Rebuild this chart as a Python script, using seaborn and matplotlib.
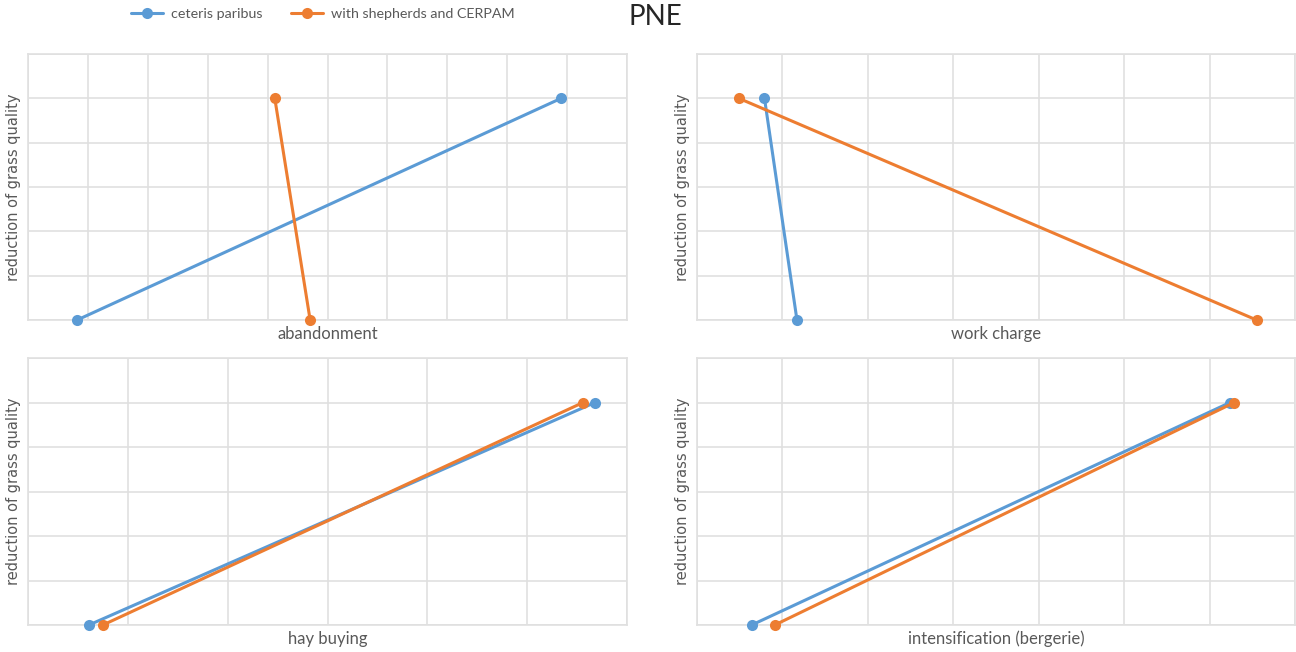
import numpy as np
import pandas as pd
import matplotlib
matplotlib.use("Agg")
import matplotlib.pyplot as plt
import seaborn as sns

# data
scenarios = ["ceteris paribus", "with shepherds and CERPAM"]
levers = ["abandonment", "work charge", "hay buying", "intensification (bergerie)"]
y_levels = [0, 1]
ceteris_x = [[0.82, 8.9], [1.17, 0.79], [0.61, 5.68], [0.64, 6.24]]
shepherds_x = [[4.71, 4.12], [6.55, 0.49], [0.75, 5.56], [0.91, 6.29]]
x_max = [10, 7, 6, 7]

colors = {"ceteris paribus": "#5B9BD5", "with shepherds and CERPAM": "#ED7D31"}

sns.set_style("white")
plt.rcParams["font.family"] = ["Lato", "DejaVu Sans"]

fig = plt.figure(figsize=(12.96, 6.52), dpi=100)
boxes = [
    [28 / 1296, 1 - 320 / 652, 599 / 1296, 266 / 652],
    [697 / 1296, 1 - 320 / 652, 598 / 1296, 266 / 652],
    [28 / 1296, 1 - 625 / 652, 599 / 1296, 267 / 652],
    [697 / 1296, 1 - 625 / 652, 598 / 1296, 267 / 652],
]

for i, lever in enumerate(levers):
    ax = fig.add_axes(boxes[i])
    df = pd.DataFrame({
        "x": ceteris_x[i] + shepherds_x[i],
        "y": y_levels + y_levels,
        "scenario": [scenarios[0]] * 2 + [scenarios[1]] * 2,
    })
    sns.lineplot(data=df, x="x", y="y", hue="scenario", palette=colors,
                 sort=False, estimator=None, marker="o", markersize=8,
                 markeredgewidth=0, linewidth=2.2, ax=ax, legend=False,
                 clip_on=False, zorder=3)
    ax.set_xlim(0, x_max[i])
    ax.set_ylim(0, 1.2)
    ax.set_xticks(np.arange(0, x_max[i] + 1, 1))
    ax.set_yticks(np.arange(0, 1.21, 0.2))
    ax.tick_params(length=0, labelbottom=False, labelleft=False)
    ax.grid(True, color="#e0e0e0", linewidth=1.2)
    for s in ax.spines.values():
        s.set_color("#e0e0e0")
        s.set_linewidth(1.2)
    ax.set_xlabel(lever, fontsize=12, color="#595959", labelpad=4)
    ax.set_ylabel("reduction of grass quality", fontsize=10.5, color="#595959",
                  family=["DejaVu Sans"], labelpad=5)

handles = [plt.Line2D([], [], color=colors[s], marker="o", markersize=8,
                      markeredgewidth=0, linewidth=2.2) for s in scenarios]
fig.legend(handles, scenarios, loc="center", bbox_to_anchor=(323 / 1296, 1 - 14 / 652),
           ncol=2, frameon=False, fontsize=10.3, handlelength=2.2,
           handletextpad=0.6, columnspacing=2.0, labelcolor="#595959")
fig.text(655 / 1296, 1 - 17 / 652, "PNE", ha="center", va="center", fontsize=20)

fig.savefig("out.png", dpi=100)
